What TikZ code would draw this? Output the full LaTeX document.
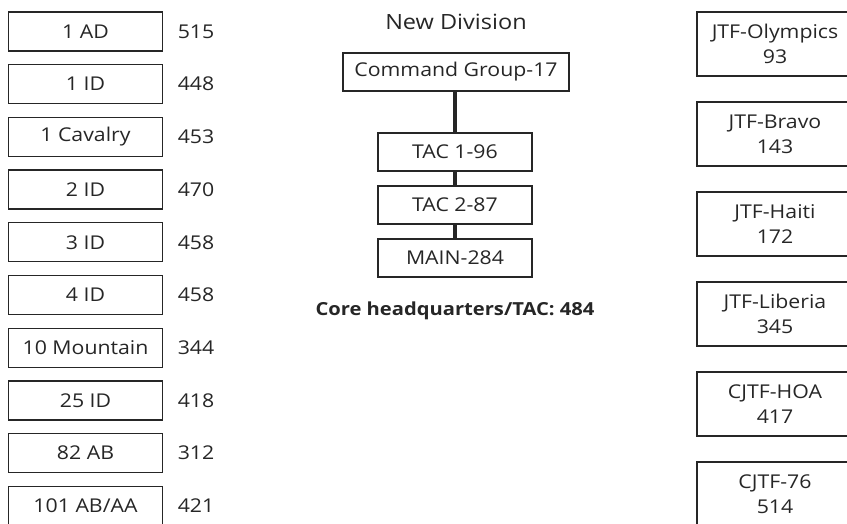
\documentclass[tikz,border=0pt]{standalone}
\usepackage{fontspec}
\setmainfont[FakeStretch=1.12]{Open Sans}
\begin{document}
\begin{tikzpicture}[x=1pt,y=-1pt,
  txt/.style={font=\fontsize{19}{25}\selectfont,text=black!85},
  unit/.style={txt,draw=black!85,line width=1.3pt,minimum width=154pt,minimum height=39pt,inner sep=0pt},
  hq/.style={txt,draw=black!85,line width=1.3pt,minimum height=38pt,inner sep=0pt},
  jtf/.style={txt,draw=black!85,line width=1.3pt,minimum width=156pt,minimum height=64pt,inner sep=0pt,align=center},
  link/.style={line width=3.5pt,draw=black!85}]
\useasboundingbox (0,0) rectangle (847,523);
\clip (0,0) rectangle (847,523);
% left column
\foreach \name/\val [count=\i from 0] in {1 AD/515,1 ID/448,1 Cavalry/453,2 ID/470,3 ID/458,4 ID/458,10 Mountain/344,25 ID/418,82 AB/312,101 AB\slash AA/421}{
  \node[unit] (u\i) at (85.5,31.5+52.7*\i) {\name};
  \node[txt] (n\i) at (196,31.5+52.7*\i) {\val};
}
% middle
\node[txt,font=\fontsize{21}{25}\selectfont] (title) at (456,22) {New Division};
\node[hq,minimum width=226pt] (cg) at (456,72) {Command Group-17};
\node[hq,minimum width=154pt] (t1) at (455,152) {TAC 1-96};
\node[hq,minimum width=154pt] (t2) at (455,205) {TAC 2-87};
\node[hq,minimum width=154pt] (mn) at (455,258) {MAIN-284};
\draw[link] (cg.south -| t1.north) -- (t1.north);
\draw[link] (t1.south) -- (t2.north);
\draw[link] (t2.south) -- (mn.north);
\node[txt,font=\bfseries\fontsize{18}{22}\selectfont] (core) at (455,311) {Core headquarters/TAC: 484};
% right column
\foreach \name/\val [count=\i from 0] in {JTF-Olympics/93,JTF-Bravo/143,JTF-Haiti/172,JTF-Liberia/345,CJTF-HOA/417,CJTF-76/514}{
  \node[jtf] (j\i) at (775,44+90*\i) {\name\\\val};
}
\end{tikzpicture}
\end{document}
